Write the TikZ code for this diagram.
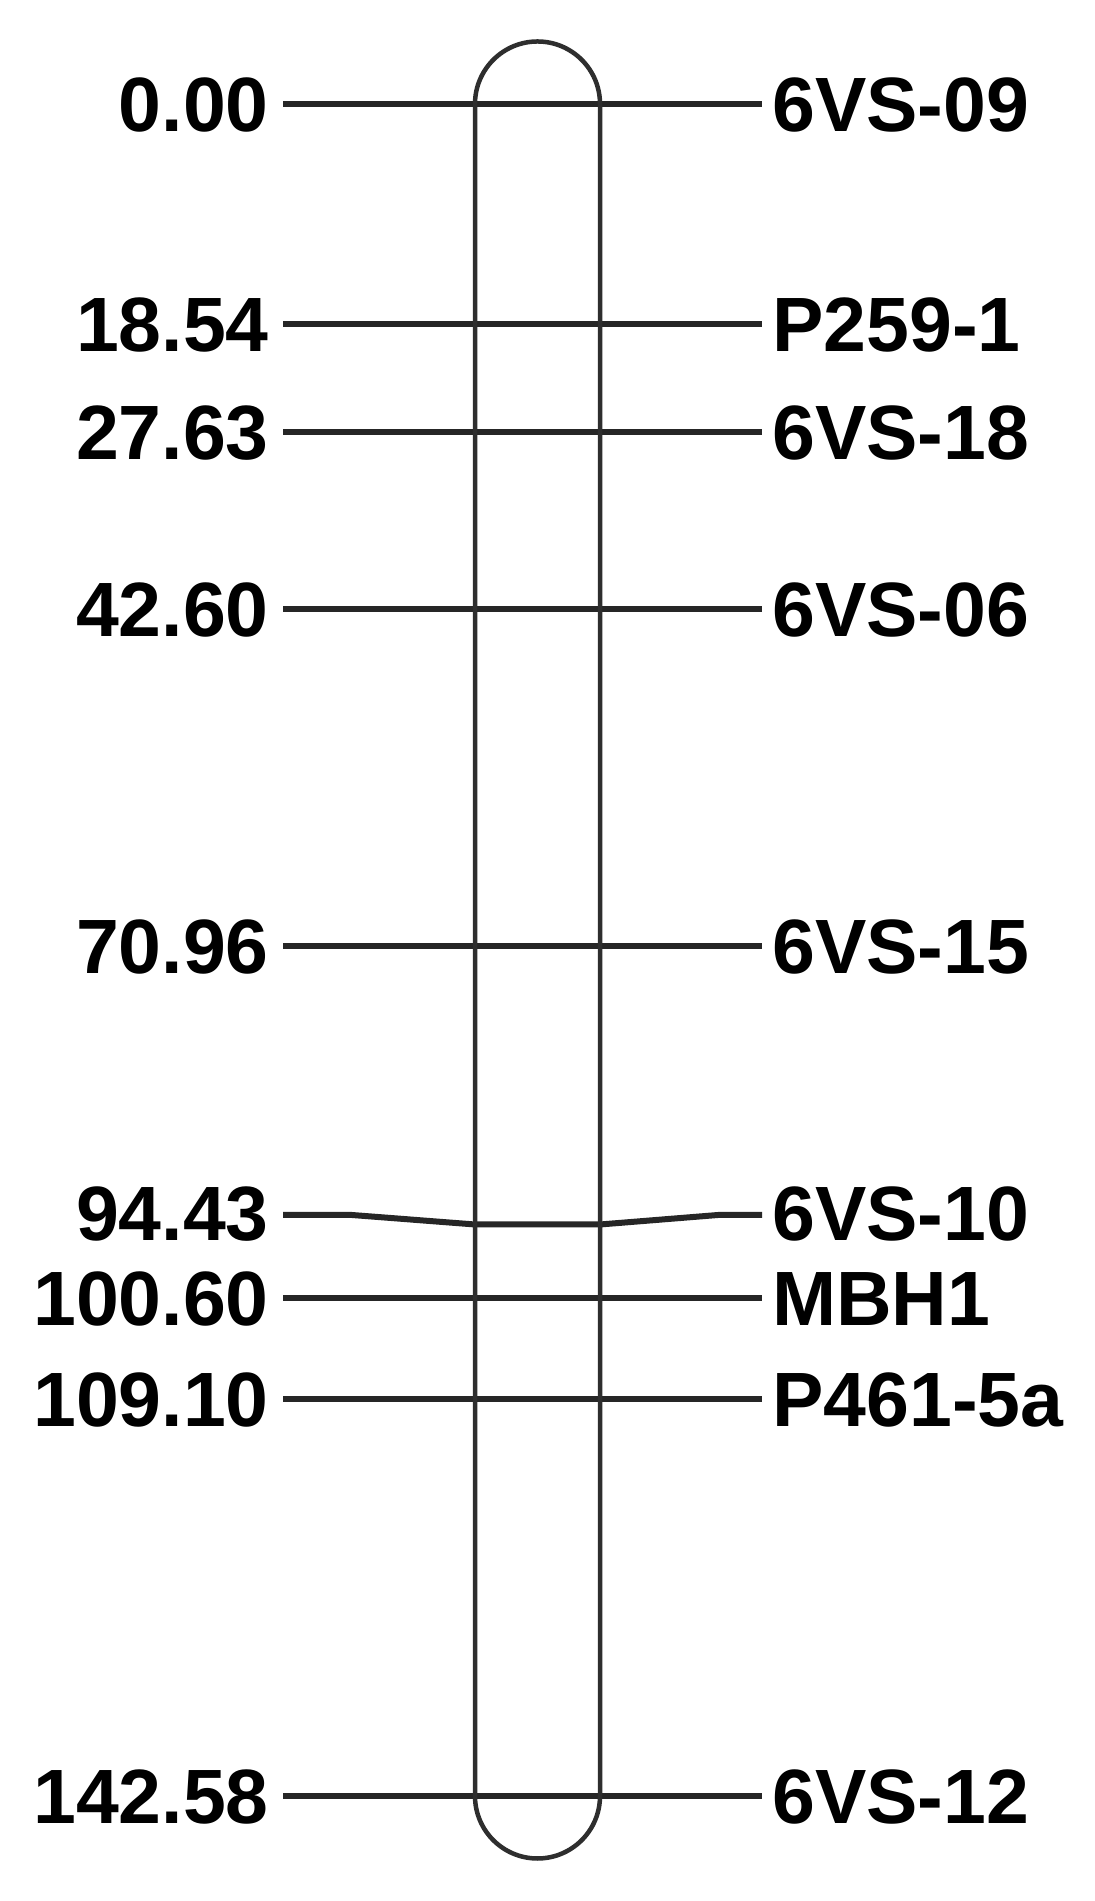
\documentclass[tikz,border=0pt]{standalone}
\usepackage{fontspec}
\setmainfont{Liberation Sans}
\begin{document}
\begin{tikzpicture}[x=1pt,y=1pt,
  lbl/.style={inner sep=0pt,text height=55pt,text depth=0pt,font=\fontsize{77}{82}\selectfont\bfseries,text=black},
  mk/.style={line width=6pt,draw=black!85},
  chrom/.style={line width=4.5pt,draw=black!82}]
\useasboundingbox[fill=white] (0,0) rectangle (1095,1901);
% markers: Y, position label, marker name
\foreach \i/\Y/\pos/\mname in {0/1797/0.00/6VS-09, 1/1577/18.54/P259-1, 2/1469/27.63/6VS-18, 3/1291.5/42.60/6VS-06, 4/955/70.96/6VS-15, 6/603/100.60/MBH1, 7/502/109.10/P461-5a, 8/105/142.58/6VS-12}{
  \node[lbl,anchor=east] (l\i) at (269,\Y) {\pos};
  \node[lbl,anchor=west] (r\i) at (772,\Y) {\mname};
  \coordinate (a\i) at (283,\Y);
  \coordinate (b\i) at (762,\Y);
  \draw[mk] (a\i) -- (b\i);
}
% 6VS-10 with bent connector
\node[lbl,anchor=east] (l5) at (269,688) {94.43};
\node[lbl,anchor=west] (r5) at (772,688) {6VS-10};
\coordinate (a5) at (283,686);
\coordinate (b5) at (762,686);
\coordinate (c5) at (475,676.5);
\coordinate (d5) at (600,676.5);
\draw[mk] (a5) -- ++(69,0) -- (c5) -- (d5) -- (718,686) -- (b5);
% chromosome outline
\draw[chrom] (475,105) -- (475,1797) arc[start angle=180,end angle=0,radius=62.5]
  -- (600,105) arc[start angle=0,end angle=-180,radius=62.5] -- cycle;
\end{tikzpicture}
\end{document}
